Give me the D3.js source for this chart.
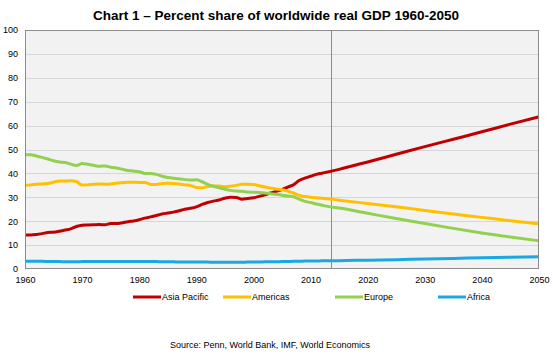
<!DOCTYPE html>
<html>
<head>
<meta charset="utf-8">
<script src="https://cdn.jsdelivr.net/npm/d3@7"></script>
<style>
  body { margin: 0; background: #fff; }
  svg { display: block; font-family: Arial, "Liberation Sans", sans-serif; }
</style>
</head>
<body>
<script>
// Historical years 1960-2013, then projection points to 2050
const histYears = d3.range(1960, 2014);
const projYears = [2015, 2020, 2025, 2030, 2035, 2040, 2045, 2050];
const years = histYears.concat(projYears);

const asiaPacific = [
  14.2, 14.2, 14.4, 14.8, 15.3, 15.4, 15.8, 16.3, 16.8, 17.8,
  18.3, 18.4, 18.5, 18.6, 18.5, 19.0, 19.0, 19.3, 19.8, 20.1,
  20.6, 21.3, 21.8, 22.4, 23.0, 23.4, 23.8, 24.4, 25.0, 25.4,
  26.0, 27.0, 27.8, 28.4, 28.9, 29.6, 30.0, 29.9, 29.2, 29.5,
  29.8, 30.4, 31.0, 31.8, 32.5, 33.2, 34.3, 35.2, 37.0, 38.0,
  38.8, 39.6, 40.1, 40.6,
  41.7, 44.8, 48.0, 51.2, 54.3, 57.4, 60.6, 63.7
];
const americas = [
  35.0, 35.2, 35.5, 35.6, 35.8, 36.3, 36.8, 36.8, 36.9, 36.6,
  35.1, 35.2, 35.5, 35.6, 35.5, 35.6, 35.9, 36.1, 36.3, 36.3,
  36.2, 36.2, 35.4, 35.4, 35.8, 35.9, 35.8, 35.6, 35.2, 34.9,
  34.1, 34.0, 34.5, 34.7, 34.7, 34.4, 34.6, 35.0, 35.5, 35.5,
  35.4, 34.8, 34.3, 33.9, 33.5, 33.2, 32.6, 31.8, 30.8, 30.3,
  30.0, 29.8, 29.6, 29.4,
  28.8, 27.4, 26.0, 24.5, 23.0, 21.6, 20.2, 18.9
];
const europe = [
  47.8, 47.8, 47.3, 46.7, 46.0, 45.3, 44.8, 44.6, 43.9, 43.3,
  44.1, 43.8, 43.4, 43.0, 43.1, 42.6, 42.3, 41.8, 41.2, 41.0,
  40.7, 40.0, 40.0, 39.6, 38.8, 38.3, 38.0, 37.8, 37.4, 37.2,
  37.3, 36.5, 35.4, 34.6, 34.0, 33.4, 32.9, 32.6, 32.5, 32.2,
  32.1, 32.0, 31.8, 31.5, 31.3, 30.9, 30.5, 30.2, 29.2, 28.3,
  27.8, 27.2, 26.7, 26.2,
  25.5, 23.3, 21.1, 19.0, 17.0, 15.1, 13.4, 11.8
];
const africa = [
  3.2, 3.2, 3.2, 3.2, 3.1, 3.1, 3.1, 3.0, 3.0, 3.0,
  3.1, 3.1, 3.1, 3.1, 3.1, 3.1, 3.1, 3.1, 3.1, 3.1,
  3.1, 3.1, 3.1, 3.1, 3.0, 3.0, 3.0, 2.9, 2.9, 2.9,
  2.9, 2.9, 2.9, 2.8, 2.8, 2.8, 2.8, 2.8, 2.8, 2.9,
  2.9, 2.9, 3.0, 3.0, 3.0, 3.1, 3.1, 3.2, 3.2, 3.3,
  3.3, 3.3, 3.4, 3.4,
  3.5, 3.7, 3.9, 4.2, 4.4, 4.7, 4.9, 5.1
];

const seriesNames = ["Asia Pacific", "Americas", "Europe", "Africa"];
const seriesValues = [asiaPacific, americas, europe, africa];
const colors = ["#c00000", "#ffc000", "#92d050", "#1aa8e2"];
const forecastStart = 2013.5;

const yTicks = d3.range(0, 101, 10);
const xTicks = d3.range(1960, 2051, 10);

const width = 553;
const height = 354;
const marginTop = 30;
const marginRight = 14;
const marginBottom = 85;
const marginLeft = 25;

const x = d3.scaleLinear()
    .domain([1960, 2050])
    .range([marginLeft, width - marginRight]);

const y = d3.scaleLinear()
    .domain([0, 100])
    .range([height - marginBottom, marginTop]);

const svg = d3.select("body").append("svg")
    .attr("width", width)
    .attr("height", height)
    .attr("viewBox", [0, 0, width, height]);

// Title
svg.append("text")
    .attr("x", 276)
    .attr("y", 20)
    .attr("text-anchor", "middle")
    .attr("font-size", "13.5px")
    .attr("font-weight", "bold")
    .attr("fill", "#000")
    .text("Chart 1 \u2013 Percent share of worldwide real GDP 1960-2050");

// Plot background
svg.append("rect")
    .attr("x", marginLeft)
    .attr("y", marginTop)
    .attr("width", width - marginLeft - marginRight)
    .attr("height", height - marginTop - marginBottom)
    .attr("fill", "#f2f2f2");

// Gridlines
svg.append("g")
    .selectAll("line")
    .data(yTicks.filter(d => d > 0 && d < 100))
    .join("line")
    .attr("x1", marginLeft)
    .attr("x2", width - marginRight)
    .attr("y1", d => Math.round(y(d)) + 0.5)
    .attr("y2", d => Math.round(y(d)) + 0.5)
    .attr("stroke", "#d6d6d6")
    .attr("stroke-width", 1);

// Forecast divider
svg.append("line")
    .attr("x1", Math.round(x(forecastStart)) + 0.5)
    .attr("x2", Math.round(x(forecastStart)) + 0.5)
    .attr("y1", marginTop)
    .attr("y2", height - marginBottom)
    .attr("stroke", "#8c8c8c")
    .attr("stroke-width", 1);

// Lines
const line = d3.line()
    .x((d, i) => x(years[i]))
    .y(d => y(d))
    .curve(d3.curveMonotoneX);

svg.append("g")
    .selectAll("path")
    .data(seriesValues)
    .join("path")
    .attr("fill", "none")
    .attr("stroke", (d, i) => colors[i])
    .attr("stroke-width", 3)
    .attr("stroke-linejoin", "round")
    .attr("d", d => line(d));

// Plot border
svg.append("rect")
    .attr("x", marginLeft + 0.5)
    .attr("y", marginTop + 0.5)
    .attr("width", width - marginLeft - marginRight - 1)
    .attr("height", height - marginTop - marginBottom - 1)
    .attr("fill", "none")
    .attr("stroke", "#8c8c8c");

// Y axis
svg.append("g")
    .attr("transform", `translate(${marginLeft},0)`)
    .call(d3.axisLeft(y).tickValues(yTicks).tickSize(0).tickPadding(7))
    .call(g => g.select(".domain").remove())
    .call(g => g.selectAll("text")
        .attr("font-family", "Arial, 'Liberation Sans', sans-serif")
        .attr("font-size", "9px")
        .attr("fill", "#000"));

// X axis
svg.append("g")
    .attr("transform", `translate(0,${height - marginBottom})`)
    .call(d3.axisBottom(x).tickValues(xTicks).tickFormat(d3.format("d")).tickSize(0).tickPadding(8))
    .call(g => g.select(".domain").remove())
    .call(g => g.selectAll("text")
        .attr("font-family", "Arial, 'Liberation Sans', sans-serif")
        .attr("font-size", "9px")
        .attr("fill", "#000"));

// Legend
const legendX = [133, 223, 335, 438];
const legend = svg.append("g")
    .attr("transform", "translate(0,297)");

seriesNames.forEach((name, i) => {
    const row = legend.append("g")
        .attr("transform", `translate(${legendX[i]},0)`);
    row.append("line")
        .attr("x1", 0)
        .attr("x2", 28)
        .attr("stroke", colors[i])
        .attr("stroke-width", 3);
    row.append("text")
        .attr("x", 29)
        .attr("y", 3)
        .attr("font-size", "9px")
        .attr("fill", "#000")
        .text(name);
});

// Source
svg.append("text")
    .attr("x", 270)
    .attr("y", 348)
    .attr("text-anchor", "middle")
    .attr("font-size", "9px")
    .attr("fill", "#000")
    .text("Source: Penn, World Bank, IMF, World Economics");
</script>
</body>
</html>
